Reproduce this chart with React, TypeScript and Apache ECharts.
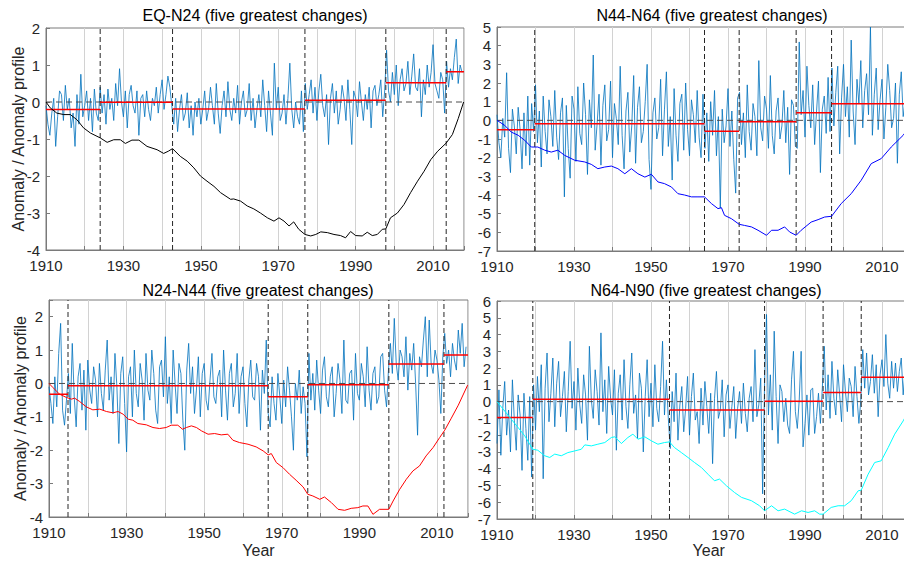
import React, { useEffect, useRef } from 'react';
import * as echarts from 'echarts';

const FONT = '"Liberation Sans", Arial, Helvetica, sans-serif';

// Time axis of the anomaly series: half-year samples starting in 1910
const START_YEAR = 1910;
const STEP_YEARS = 0.5;
const END_YEAR = 2018;

const titles = [
  'EQ-N24 (five greatest changes)',
  'N44-N64 (five greatest changes)',
  'N24-N44 (five greatest changes)',
  'N64-N90 (five greatest changes)',
];
const yAxisTitle = 'Anomaly / Anomaly profile';
const xAxisTitle = 'Year';

// ---------- EQ-N24 ----------
const anomEqN24 = [
  -0.1, -0.6, -0.9, -0.3, 0.1, -1.2, -0.4, 0.3, 0.2, -0.5,
  0.45, -0.2, 0.1, -0.7, -0.3, -1.2, 0.2, -0.6, 0.75, -0.4,
  -0.1, 0.3, -0.5, 0.1, -0.8, 0.35, -0.3, -0.5,
  0.4, -0.3, 0.2, -0.6, 0.35, -0.2, 0.1, -0.5, 0.5, -0.1,
  0.9, 0.0, -0.4, 0.3, -0.7, 0.2, 0.45, -0.1, -0.3, 0.3,
  -0.9, 0.1, 0.2, -0.4, 0.3, -0.2, -0.5, 0.1, -0.1, 0.4,
  -0.3, 0.2, 0.6, -0.2, 0.2, 0.7, 0.4, -0.1,
  -0.6, 0.1, -0.8, -0.2, 0.2, -0.5, -0.3, 0.25, -0.7, -0.1,
  -0.9, 0.0, -0.4, 0.1, -0.6, -0.2, 0.3, -0.5, -0.2, 0.4,
  -0.1, -0.6, 0.5, -0.3, -0.85, -0.1, 0.3, -0.4, 0.55, -0.2,
  -0.5, 0.1, -0.3, 0.45, -0.6, 0.0, 0.3, -0.4, -0.2, 0.5,
  -0.5, 0.1, -0.7, -0.2, 0.2, -0.4, 0.6, -0.1, -0.8, 0.3,
  -0.3, -0.9, 1.05, -0.2, 0.4, -0.5, -0.3, 0.2, -0.6, 0.1,
  1.05, -0.2, -0.7, 0.0, -0.4, -0.6, 0.3, -0.8,
  0.5, -0.2, 0.2, 0.6, -0.3, 0.4, -0.5, 0.3, 0.75, -0.1,
  -0.4, 0.2, -1.15, 0.1, 0.5, -0.3, 0.3, -0.6, -0.2, 0.45,
  0.1, -0.5, 0.6, -0.2, -1.15, 0.3, 0.1, -0.4, 0.55, 0.0,
  -0.5, 0.2, -0.2, 0.4, -0.7, 0.3, 0.45, -0.1, 0.2, 0.6,
  -0.4, 0.3,
  1.4, 0.3, 0.0, 0.8, 0.2, 1.0, -0.1, 0.6, 0.9, 0.3,
  0.5, 1.1, 0.2, 0.7, 1.3, 0.4, 0.3, 0.9, -0.4, 0.6,
  0.2, 1.0, 0.4, 0.8, 1.55, 0.5, 0.3, 0.1, 0.8, 0.6,
  -0.3,
  1.1, 0.4, 0.9, 0.6, 1.2, 1.7, 0.5, 1.0, 0.8,
];
const profileEqN24: [number, number][] = [
  [1910, 0], [1911.1, -0.16], [1912.8, -0.3], [1914.6, -0.34], [1916.3, -0.34],
  [1918, -0.48], [1919.7, -0.7], [1921.5, -0.84], [1924, -0.97], [1925.8, -1.09],
  [1927.5, -1.02], [1929.2, -1.02], [1930.5, -1.12], [1932.2, -1.03], [1934, -1.03],
  [1936.1, -1.2], [1938.7, -1.29], [1940.4, -1.39], [1941.6, -1.33], [1942.7, -1.26],
  [1944.7, -1.47], [1946.5, -1.6], [1948.2, -1.78], [1949.9, -2.0], [1951.6, -2.14],
  [1953.4, -2.28], [1955.1, -2.45], [1957.7, -2.63], [1958.5, -2.62], [1960.3, -2.68],
  [1962, -2.81], [1963.7, -2.89], [1965.4, -3.0], [1967.2, -3.13], [1968.9, -3.22],
  [1970.2, -3.13], [1971.5, -3.22], [1972.8, -3.35], [1974, -3.24], [1975.3, -3.44],
  [1976.9, -3.58], [1978.4, -3.62], [1979.7, -3.58], [1981, -3.51], [1982.7, -3.53],
  [1984.4, -3.58], [1986.1, -3.61], [1987.4, -3.67], [1988.7, -3.5], [1990, -3.61],
  [1991.7, -3.62], [1993, -3.52], [1994.3, -3.61], [1995.6, -3.58], [1996.9, -3.44],
  [1997.8, -3.43], [1999, -3.13], [2000.8, -3.0], [2002.5, -2.77], [2004.2, -2.45],
  [2006, -2.14], [2007.7, -1.87], [2009.4, -1.56], [2011.2, -1.33], [2013.4, -1.11],
  [2015, -0.88], [2016.5, -0.45], [2017.9, 0.0],
];
const changeEqN24 = [1924.0, 1942.7, 1976.9, 1997.8, 2013.4];
const meansEqN24 = [-0.2, -0.01, -0.19, 0.05, 0.52, 0.82];

// ---------- N44-N64 ----------
const anomN44N64 = [
  0.3, -1.2, -2.0, 0.1, -0.9, 2.55, -1.5, -2.8, 0.6, -0.3,
  -1.8, 0.7, -0.5, -2.6, 0.4, -1.9, 1.3, -2.4, 0.9, -0.6,
  1.9, -1.2, 0.5, -2.5, 1.3, -0.6, -1.8, 1.1, 0.2, -1.4,
  1.6, -0.9, -2.1, 0.4, 1.2, -4.1, 0.8, -1.5, -3.1, 1.3,
  0.6, -2.2, 1.8, -0.7, -1.3, 2.0, 0.3, -2.9, 1.1, -0.4,
  3.5, -1.6, -0.2, 1.4, -2.4, 0.8, 1.9, -1.1, -0.5, 2.1,
  -2.0, 0.9, 0.1, -1.3, 2.9, -0.8, -2.6, 0.5, 1.5, -1.7,
  -0.3, 2.4, -2.3, 0.7, 1.8, -1.2, -0.6, 1.0, 3.0, -2.1,
  -3.7, 0.4, 1.2, -1.0, -0.4, 2.2, -1.9, 0.6, 2.6, -1.4,
  0.2, -3.2, 1.7, -0.8, -2.2, 0.9, 1.4, -1.6, 2.0, -0.5,
  -1.9, 1.1, 0.3, -1.2, 1.6, -0.9, -2.0, 1.4,
  -1.5, 0.4, -2.2, 1.0, -0.8, 1.6, -1.9, 0.2, -4.7, 0.6,
  -1.2, -0.3, 1.7, -1.4, 0.5, -2.1, -3.9, 1.2,
  1.5, -1.3, 0.4, -2.0, 1.9, -0.6, -1.6, 0.9, 0.2, -1.9,
  3.2, -0.4, -1.1, 1.3, 0.6, -1.5, 2.4, -0.8, -1.8, 0.5,
  1.2, -1.0, -0.3, 1.6, -1.2, 0.7, -2.9, 1.1, 0.8, -1.4,
  -1.5, 4.2, 0.3, 1.6, -0.9, 2.9, 0.8, -0.4, 1.9, -1.3,
  0.5, 2.1, -2.8, 0.6, 1.3, -0.7, 2.3, -0.6,
  2.8, -0.3, 1.5, 2.9, -1.8, 1.2, 3.0, 0.2, 1.8, -0.9,
  4.3, 0.5, -1.3, 2.2, 0.9, 3.2, -0.4, 1.6, 2.5, 0.3,
  5.0, -0.8, 1.4, 2.8, -0.5, 1.1, 2.2, -1.0, 0.7, 3.0,
  1.6, -0.4, 0.1, 2.0, -2.3, 1.4, 2.6, 0.2, 1.0, 2.7,
  -0.6, 1.3,
];
const profileN44N64: [number, number][] = [
  [1910, 0], [1912, -0.27], [1913.7, -0.63], [1915.5, -0.8], [1917.2, -1.07],
  [1918.9, -1.43], [1920.6, -1.43], [1922.4, -1.6], [1924.1, -1.7], [1925.8, -1.6],
  [1927.6, -1.88], [1930.2, -2.14], [1932.8, -2.23], [1934.5, -2.36], [1936.2, -2.59],
  [1938, -2.5], [1939.7, -2.45], [1941.4, -2.59], [1943.2, -2.86], [1944.9, -2.59],
  [1946.6, -2.86], [1948.4, -3.04], [1950.1, -2.89], [1951.8, -3.3], [1953.5, -3.39],
  [1955.3, -3.57], [1957, -3.93], [1958.7, -4.0], [1960.5, -4.1], [1962.2, -4.1],
  [1963.9, -4.1], [1965.7, -4.46], [1967.4, -4.73], [1968.3, -4.68], [1969.1, -5.09],
  [1970.9, -5.27], [1972.9, -5.57], [1974.3, -5.63], [1976.1, -5.71], [1977.8, -5.89],
  [1980, -6.16], [1981.3, -5.89], [1983, -5.89], [1984.7, -5.71], [1986, -5.98],
  [1987.7, -6.16], [1989, -5.89], [1991.6, -5.45], [1993.4, -5.32], [1995.1, -5.18],
  [1996.9, -5.14], [1999.4, -4.46], [2002, -3.93], [2004.6, -3.21], [2007.2, -2.32],
  [2009.8, -2.05], [2012.4, -1.43], [2015.5, -0.8], [2017.9, -0.1],
];
const changeN44N64 = [1919.8, 1963.9, 1972.9, 1987.7, 1996.9];
const meansN44N64 = [-0.5, -0.18, -0.59, -0.07, 0.41, 0.89];

// ---------- N24-N44 ----------
const anomN24N44 = [
  -0.1, -0.6, -1.2, 0.2, -0.7, 0.9, 1.8, -0.8, -1.25, -0.5,
  0.3, -0.9, 1.2, -0.4, -1.3, 0.2, 0.6, -0.8, 0.4, -1.4,
  0.7, -0.2, -0.6, 0.5, 0.1, -1.0, 0.6, -0.3, -0.8, 0.4,
  1.3, -0.5, 0.2, -0.9, 0.9, -0.1, -1.8, 0.3, 0.8, -0.6,
  -2.05, 0.2, 0.5, -1.0, 1.0, -0.3, -0.7, 0.6, 0.1, -1.1,
  0.9, -0.2, -0.5, 1.0, 0.3, -0.8, -1.2, 0.5, 0.7, -0.4,
  1.4, -0.6, 0.2, -1.2, 1.0, 0.0, -0.9, 0.6, 0.3, -1.1,
  -2.0, 0.4, 1.2, -0.3, 0.5, -0.9, -0.2, 0.8, -1.0, 0.3,
  0.6, -0.5, -0.8, 0.1, 0.9, -0.4, -0.6, 0.2, 0.4, -1.0,
  1.0, -0.2, -1.1, 0.3, 0.6, -0.7, -0.3, 0.9, -0.9, 0.2,
  0.5, -0.6, -1.3, 0.1, 0.7, -0.4, -0.5, 0.6, 0.2, -1.4,
  0.4, -0.3, 1.3,
  -0.9, -1.3, 0.2, -0.6, -1.1, 0.3, -0.4, -1.2, 0.1, -0.7,
  0.5, -0.2, -1.0, -2.0, 0.0, -0.5, 0.4, -0.9, -0.1, -0.6,
  -2.2,
  0.9, -0.5, 0.3, -0.8, 0.7, -0.2, -0.9, 0.4, 0.8, -0.4,
  -0.7, 0.2, 0.5, -1.0, -0.3, 0.6, 0.1, -0.9, 1.3, -0.5,
  -0.6, 0.3, 0.4, -1.1, 0.9, -0.3, -0.5, 0.6, 0.2, -0.7,
  1.1, -0.2, -0.8, 0.3, 0.5, -0.6, -0.4, 0.8, 0.9, -0.2,
  -0.7, 0.4,
  1.2, 0.3, 1.95, 0.6, 0.1, 1.0, 0.8, 0.2, 1.4, -0.2,
  0.9, 0.4, 1.2, 0.0, -1.55, 0.8, 0.5, 1.3, 2.0, 0.2,
  1.9, 0.6, 0.3, 1.0, 0.7, 0.1, -0.9, 0.8,
  1.5, 0.6, 1.0, 0.2, 1.2, 0.7, 0.4, 1.6, 0.9, 1.8, 0.5, 1.1,
];
const profileN24N44: [number, number][] = [
  [1910, 0], [1911, -0.12], [1912.7, -0.32], [1914.5, -0.42], [1915.8, -0.47],
  [1916.6, -0.44], [1917.9, -0.54], [1919.6, -0.7], [1921.3, -0.79], [1923.1, -0.77],
  [1924.8, -0.84], [1926.5, -0.88], [1927.8, -0.84], [1929.1, -0.92], [1930.4, -1.07],
  [1931.6, -1.1], [1932.9, -1.2], [1935.1, -1.24], [1936.8, -1.32], [1938.5, -1.35],
  [1940.2, -1.32], [1941.5, -1.25], [1943.2, -1.25], [1944.4, -1.37], [1945.4, -1.32],
  [1946.7, -1.27], [1948, -1.32], [1949.3, -1.42], [1951, -1.52], [1952.7, -1.5],
  [1954.4, -1.54], [1956.1, -1.52], [1957.4, -1.7], [1959.1, -1.77], [1961.3, -1.82],
  [1963.4, -1.9], [1965.2, -2.02], [1966.5, -2.14], [1967.3, -2.1], [1968.6, -2.37],
  [1970.3, -2.52], [1972, -2.72], [1973.7, -2.9], [1975.5, -3.1], [1976.7, -3.32],
  [1978, -3.37], [1979.8, -3.47], [1981, -3.4], [1982.8, -3.57], [1984.5, -3.77],
  [1986.2, -3.8], [1987.9, -3.74], [1989.6, -3.72], [1990.9, -3.67], [1992.2, -3.67],
  [1993.5, -3.92], [1995.2, -3.77], [1997.6, -3.77], [1998.7, -3.52], [2000.4, -3.17],
  [2002.1, -2.87], [2003.8, -2.62], [2005.5, -2.47], [2007.2, -2.17], [2009, -1.92],
  [2010.7, -1.62], [2012, -1.4], [2013.7, -1.04], [2015.5, -0.65], [2017.9, -0.05],
];
const changeN24N44 = [1914.9, 1966.5, 1976.7, 1997.6, 2011.8];
const meansN24N44 = [-0.32, -0.07, -0.4, -0.04, 0.58, 0.85];

// ---------- N64-N90 ----------
const anomN64N90 = [
  -2.5, 0.7, -3.2, -0.4, 1.2, -2.0, -0.5, -3.0, 1.3, -1.1,
  -2.9, 0.4, -0.8, -4.1, 0.5, -1.6, -3.5, 0.3, -4.5,
  1.0,
  -1.7, 1.5, -0.6, 2.2, -4.6, 0.8, 2.9, -1.2, 0.5, 2.6,
  -1.5, 1.1, 2.4, -0.9, 0.3, 1.8, -1.8, 0.6, 3.6, -0.4,
  1.2, -1.7, 2.0, -0.2, -1.3, 1.6, 0.4, -2.3, 3.3, 0.1,
  -1.0, 1.9, 0.6, -1.4, 4.1, -0.6, 1.3, -1.9, 2.1, 0.2,
  -0.8, 1.9, -2.9, 0.5, 1.6, -1.1, 2.5, -0.3, -1.6, 1.0,
  2.9, -0.7, 0.4, -2.2, 1.7, 0.8, -3.0, 0.3, 2.5, -0.9,
  1.1, -1.5, 2.2, -0.4, -1.2, 0.9, 3.6, -0.8, 1.3, -1.0,
  -2.8, 0.6, -1.2, 1.7, -2.3, -0.2, 0.9, -1.8, -0.4, 1.5,
  -2.0, 0.3, 1.7, -1.1, -0.6, -2.5, 0.8, -1.4, 1.2, -0.3,
  -1.9, 0.5, -3.7, 0.2, 1.8, -1.0, -0.5, 1.3, -2.1, 0.4,
  1.0, -1.6, -0.3, 0.9, -2.2, -0.4, 0.6, -1.3, 1.1, -0.7,
  -1.8, 0.2, 0.9, -1.2, 3.1, -0.9, -0.2, 1.4, -5.5,
  1.1,
  5.2, -0.8, 1.6, -1.7, 4.2, 0.3, -2.5, 1.0, 0.6, -1.2,
  0.2, -1.4, -1.9, 1.3, 3.0, -0.6, -1.6, 0.1, 3.0, -2.7,
  -1.3, 0.4, -2.0, 0.7, 0.8, -1.9, -0.9, 0.5, -1.3, 0.8,
  3.3, -0.5, 1.6, -1.0, 2.4, 0.2, -0.8, 1.9, 0.4, -1.2,
  2.2, 0.6, -0.6, 1.4, 0.9, -0.9, 2.1, 0.3, -1.3, 0.1,
  3.1, 0.8, 2.9, 0.4, 1.2, 2.8, 0.5, 2.2, -0.9, 1.6,
  2.5, 0.9, 4.0, 1.1, 0.2, 2.4, 0.8, 2.3, 0.6, 1.8,
  2.6, 0.4, 1.9, 0.7, 2.3, 1.0,
];
const profileN64N90: [number, number][] = [
  [1910, 0], [1912, -0.56], [1913.7, -1.05], [1915.5, -1.55], [1917.2, -2.04],
  [1918.5, -2.54], [1919.3, -2.84], [1920.6, -2.9], [1922.4, -3.23], [1923.7, -3.33],
  [1925, -3.13], [1926.7, -3.23], [1928.4, -3.04], [1930.2, -2.94], [1931.9, -2.84],
  [1932.8, -2.58], [1934.5, -2.64], [1936.2, -2.54], [1938, -2.44], [1939.7, -2.14],
  [1940.6, -2.1], [1942.3, -2.5], [1944, -2.14], [1945.3, -1.94], [1946.6, -2.24],
  [1948.4, -2.1], [1950.1, -2.34], [1951.8, -2.54], [1953.5, -2.44], [1954.8, -2.4],
  [1956.1, -2.74], [1957.9, -3.04], [1959.6, -3.33], [1961.3, -3.63], [1963.1, -3.93],
  [1964.8, -4.33], [1966.5, -4.72], [1967.8, -4.62], [1969.6, -5.02], [1971.7, -5.42],
  [1973.5, -5.71], [1976.1, -5.91], [1978.2, -6.21], [1979.5, -6.51], [1981.3, -6.21],
  [1983, -6.51], [1984.7, -6.41], [1987.3, -6.71], [1989.1, -6.51], [1990.8, -6.61],
  [1992.5, -6.51], [1993.8, -6.71], [1994.7, -6.71], [1996.8, -6.31], [1998.6, -6.21],
  [2000.3, -6.21], [2002, -5.91], [2003.8, -5.32], [2004.6, -5.28], [2006.4, -4.33],
  [2008.1, -3.63], [2009.8, -3.53], [2011.6, -2.74], [2013.3, -1.94], [2015.5, -1.15],
  [2017.9, -0.1],
];
const changeN64N90 = [1919.3, 1954.8, 1979.5, 1994.7, 2004.6];
const meansN64N90 = [-0.95, 0.14, -0.5, 0.02, 0.54, 1.45];

// ---------- layout / style (not data) ----------
const CANVAS_W = 930; // wider than the page: the right column is cut off at 904 as in the reference
const CANVAS_H = 562;

const panels = [
  {
    title: titles[0], anom: anomEqN24, profile: profileEqN24, cps: changeEqN24, means: meansEqN24,
    profColor: '#000000', yMin: -4, yMax: 2, xMax: 2018,
    box: { left: 46, top: 28, width: 418, height: 222 }, titleAt: [255, 15], yLabelX: 18, xLabelY: 0,
  },
  {
    title: titles[1], anom: anomN44N64, profile: profileN44N64, cps: changeN44N64, means: meansN44N64,
    profColor: '#0000ff', yMin: -7, yMax: 5, xMax: 2020,
    box: { left: 497, top: 27, width: 423.5, height: 224 }, titleAt: [712, 15], yLabelX: 0, xLabelY: 0,
  },
  {
    title: titles[2], anom: anomN24N44, profile: profileN24N44, cps: changeN24N44, means: meansN24N44,
    profColor: '#ff0000', yMin: -4, yMax: 2.5, xMax: 2018,
    box: { left: 49, top: 300, width: 419, height: 217 }, titleAt: [258, 290], yLabelX: 20, xLabelY: 550,
  },
  {
    title: titles[3], anom: anomN64N90, profile: profileN64N90, cps: changeN64N90, means: meansN64N90,
    profColor: '#00ffff', yMin: -7, yMax: 6, xMax: 2020,
    box: { left: 497, top: 301, width: 423.5, height: 218 }, titleAt: [706, 290], yLabelX: 0, xLabelY: 550,
  },
];

const AXIS_COLOR = '#7a7a7a';
const TEXT_COLOR = '#262626';

function buildOption() {
  const grid = panels.map((p) => ({
    left: p.box.left, top: p.box.top, width: p.box.width, height: p.box.height,
    show: true, borderColor: AXIS_COLOR, borderWidth: 1, backgroundColor: 'transparent',
  }));

  const xAxis = panels.map((p, i) => ({
    type: 'value', gridIndex: i, min: START_YEAR, max: p.xMax, interval: 10,
    axisLine: { show: true, onZero: false, lineStyle: { color: AXIS_COLOR, width: 1 } },
    axisTick: { show: true, inside: true, length: 4, lineStyle: { color: AXIS_COLOR } },
    splitLine: { show: true, lineStyle: { color: '#d2d2d2', width: 1 } },
    axisLabel: {
      fontSize: 15, fontFamily: FONT, color: TEXT_COLOR, margin: 8, hideOverlap: false,
      formatter: (v: number) => ((v - START_YEAR) % 20 === 0 && v <= 2010 ? String(v) : ''),
    },
  }));

  const yAxis = panels.map((p, i) => ({
    type: 'value', gridIndex: i, min: p.yMin, max: p.yMax, interval: 1,
    axisLine: { show: true, onZero: false, lineStyle: { color: AXIS_COLOR, width: 1 } },
    axisTick: { show: true, inside: true, length: 4, lineStyle: { color: AXIS_COLOR } },
    splitLine: { show: false },
    axisLabel: {
      fontSize: 15, fontFamily: FONT, color: TEXT_COLOR, margin: 6, hideOverlap: false,
      formatter: (v: number) => (Number.isInteger(v) ? String(v) : ''),
    },
  }));

  const series: any[] = [];
  panels.forEach((p, i) => {
    const common = {
      type: 'line', xAxisIndex: i, yAxisIndex: i, showSymbol: false, symbol: 'none',
      silent: true, animation: false, connectNulls: false,
    };
    series.push({
      ...common, z: 2,
      data: p.anom.map((v, k) => [START_YEAR + k * STEP_YEARS, v]),
      lineStyle: { color: '#0072BD', width: 1, opacity: 0.8 },
    });
    series.push({
      ...common, z: 3,
      data: [[START_YEAR, 0], [p.xMax, 0]],
      lineStyle: { color: '#4d4d4d', width: 1, type: [6, 4] },
    });
    const cpData: any[] = [];
    p.cps.forEach((c) => {
      cpData.push([c, p.yMin], [c, p.yMax], [c, '-']);
    });
    series.push({
      ...common, z: 4, data: cpData,
      lineStyle: { color: '#262626', width: 1, type: [5, 3] },
    });
    const bounds = [START_YEAR, ...p.cps, END_YEAR];
    const segData: any[] = [];
    p.means.forEach((m, k) => {
      segData.push([bounds[k], m], [bounds[k + 1], m], [bounds[k + 1], '-']);
    });
    series.push({
      ...common, z: 5, data: segData,
      lineStyle: { color: '#ff0000', width: 1.5 },
    });
    series.push({
      ...common, z: 6, data: p.profile,
      lineStyle: { color: p.profColor, width: 1 },
    });
  });

  const graphic: any[] = [];
  panels.forEach((p) => {
    graphic.push({
      type: 'text', x: p.titleAt[0], y: p.titleAt[1], z: 10,
      style: {
        text: p.title, fill: '#000000', font: `16px ${FONT}`,
        textAlign: 'center', textVerticalAlign: 'middle', align: 'center', verticalAlign: 'middle',
      },
    });
    if (p.yLabelX) {
      graphic.push({
        type: 'text', x: p.yLabelX, y: p.box.top + p.box.height / 2, rotation: Math.PI / 2, z: 10,
        style: {
          text: yAxisTitle, fill: TEXT_COLOR, font: `16px ${FONT}`,
          textAlign: 'center', textVerticalAlign: 'middle', align: 'center', verticalAlign: 'middle',
        },
      });
    }
    if (p.xLabelY) {
      graphic.push({
        type: 'text', x: p.box.left + p.box.width / 2, y: p.xLabelY, z: 10,
        style: {
          text: xAxisTitle, fill: TEXT_COLOR, font: `16px ${FONT}`,
          textAlign: 'center', textVerticalAlign: 'middle', align: 'center', verticalAlign: 'middle',
        },
      });
    }
  });

  return {
    animation: false,
    backgroundColor: '#ffffff',
    textStyle: { fontFamily: FONT },
    grid, xAxis, yAxis, series, graphic,
  };
}

export default function App() {
  const ref = useRef<HTMLDivElement>(null);
  useEffect(() => {
    if (!ref.current) return;
    const chart = echarts.init(ref.current, undefined, { renderer: 'svg' });
    chart.setOption(buildOption() as any);
    return () => chart.dispose();
  }, []);
  return (
    <div
      style={{
        position: 'fixed', left: 0, top: 0, width: 904, height: CANVAS_H,
        overflow: 'hidden', background: '#fff',
      }}
    >
      <div ref={ref} style={{ width: CANVAS_W, height: CANVAS_H }} />
    </div>
  );
}
